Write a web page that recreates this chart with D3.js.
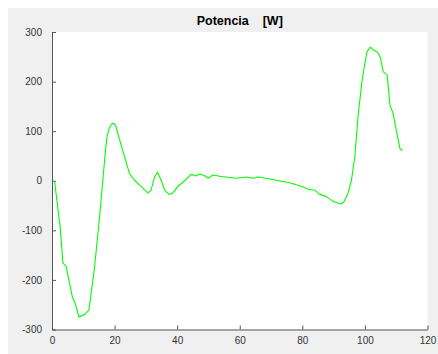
<!DOCTYPE html>
<html>
<head>
<meta charset="utf-8">
<script src="https://cdn.jsdelivr.net/npm/d3@7"></script>
<style>
  html, body { margin: 0; padding: 0; background: #ffffff; }
  svg { display: block; font-family: "Liberation Sans", Arial, Helvetica, sans-serif; }
</style>
</head>
<body>
<svg id="chart" width="438" height="354"></svg>
<script>
// Power signal sampled over time
const tiempo = [0.8, 2.6, 3.5, 4.5, 6.5, 7.5, 8.6, 10.4, 11.8, 13.6, 15.2, 17.1, 17.6, 18.3, 19, 19.6, 20.3, 21, 23.2, 24.8, 26.4, 28, 30.7, 31.6, 32.8, 33.7, 34.9, 36, 37.4, 38.7, 40.3, 42, 44.5, 45.9, 47.2, 48.8, 49.9, 51.4, 53.6, 58.9, 62.1, 64.3, 65.9, 69.6, 73.3, 76, 79.7, 81.9, 84, 85.4, 87.7, 89.9, 92.2, 93.2, 94.6, 95.7, 96.8, 97.8, 99.1, 100, 100.7, 101.8, 102.6, 104, 105, 105.8, 107.1, 108, 109, 110.1, 111.2, 111.9];
const potencia = [0, -93, -166, -172, -234, -249, -275, -270, -261, -174, -73, 62, 89, 106, 114, 116, 112, 96, 48, 14, 1, -9, -25, -20, 8, 17, 1, -19, -27.5, -24, -11, -2, 13, 9.5, 13.5, 10, 5, 11.5, 9, 5, 7.5, 5, 7.5, 3.5, -1, -4, -11, -17, -19, -27, -32, -42, -47, -44, -25, 1, 50, 130, 203, 237, 261, 269.5, 264, 259.5, 247.5, 220, 213.5, 153, 136, 99, 65, 60.5];

const xTicks = [0, 20, 40, 60, 80, 100, 120];
const yTicks = [-300, -200, -100, 0, 100, 200, 300];
const titulo = "Potencia    [W]";

const svg = d3.select("#chart");
const W = 438, H = 354;
const m = { left: 52, right: 10.5, top: 32, bottom: 24.5 };

// figure background
svg.append("rect")
  .attr("x", 8).attr("y", 8)
  .attr("width", W - 8).attr("height", H - 8)
  .attr("fill", "#f0f0f0");

const x = d3.scaleLinear().domain([0, 120]).range([m.left, W - m.right]);
const y = d3.scaleLinear().domain([-300, 300]).range([H - m.bottom, m.top]);

// axes background
svg.append("rect")
  .attr("x", x(0)).attr("y", y(300))
  .attr("width", x(120) - x(0)).attr("height", y(-300) - y(300))
  .attr("fill", "#ffffff");

const axisColor = "#555";
const textColor = "#333";
const plain = d => String(d);

const gx = svg.append("g")
  .attr("transform", `translate(0,${y(-300)})`)
  .call(d3.axisBottom(x).tickValues(xTicks).tickFormat(plain)
    .tickSizeInner(-4).tickSizeOuter(0).tickPadding(7));

const gy = svg.append("g")
  .attr("transform", `translate(${x(0)},0)`)
  .call(d3.axisLeft(y).tickValues(yTicks).tickFormat(plain)
    .tickSizeInner(-4).tickSizeOuter(0).tickPadding(10));

[gx, gy].forEach(g => {
  g.select(".domain").attr("stroke", axisColor).attr("stroke-width", 1);
  g.selectAll(".tick line").attr("stroke", axisColor);
  g.selectAll(".tick text").attr("fill", textColor).style("font-size", "10px");
});

// signal line
const line = d3.line()
  .x((d, i) => x(tiempo[i]))
  .y(d => y(d));

svg.append("path")
  .datum(potencia)
  .attr("d", line)
  .attr("fill", "none")
  .attr("stroke", "#00ff00")
  .attr("stroke-width", 1.1)
  .attr("stroke-linejoin", "round");

// title
svg.append("text")
  .attr("x", (x(0) + x(120)) / 2)
  .attr("y", 25)
  .attr("text-anchor", "middle")
  .style("white-space", "pre")
  .style("font-size", "12.5px")
  .style("font-weight", "bold")
  .attr("fill", "#000")
  .text(titulo);
</script>
</body>
</html>
